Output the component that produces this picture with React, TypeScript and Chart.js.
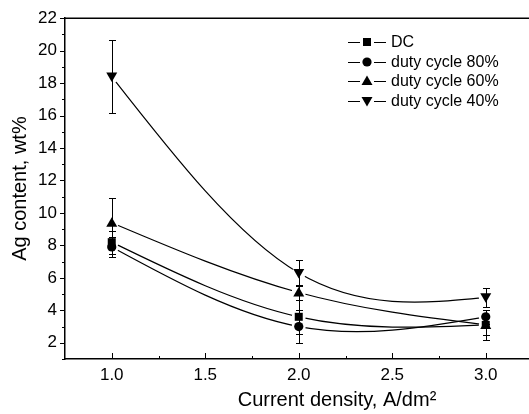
import React, { useEffect, useRef } from 'react';
import { Chart, registerables } from 'chart.js';

Chart.register(...registerables);

const currentDensity = [1.0, 2.0, 3.0];
const seriesNames = ['DC', 'duty cycle 80%', 'duty cycle 60%', 'duty cycle 40%'];
const dcValues = [8.2, 3.6, 3.1];
const dcErrors = [0.7, 1.05, 0.6];
const duty80Values = [7.9, 3.0, 3.6];
const duty80Errors = [0.6, 1.0, 0.45];
const duty60Values = [9.4, 5.1, 3.1];
const duty60Errors = [1.55, 0.45, 0.9];
const duty40Values = [18.4, 6.3, 4.8];
const duty40Errors = [2.25, 0.8, 0.6];
const markerStyles = ['square', 'circle', 'triangleUp', 'triangleDown'];
const xTicks = [1.0, 1.5, 2.0, 2.5, 3.0];
const yTicks = [2, 4, 6, 8, 10, 12, 14, 16, 18, 20, 22];

const allValues = [dcValues, duty80Values, duty60Values, duty40Values];
const allErrors = [dcErrors, duty80Errors, duty60Errors, duty40Errors];

const FONT = "'Liberation Sans', Arial, Helvetica, sans-serif";
const CANVAS_W = 609;
const PLOT_LEFT = 65;
const PX_PER_UNIT = 187;
const X_MIN = 0.75;
const X_MAX = X_MIN + (CANVAS_W - PLOT_LEFT) / PX_PER_UNIT;

function drawMarker(ctx: CanvasRenderingContext2D, style: string, x: number, y: number) {
  ctx.save();
  ctx.fillStyle = '#000';
  ctx.beginPath();
  if (style === 'square') {
    ctx.rect(x - 4, y - 4, 8, 8);
  } else if (style === 'circle') {
    ctx.arc(x, y, 4.6, 0, Math.PI * 2);
  } else if (style === 'triangleUp') {
    ctx.moveTo(x, y - 5.5);
    ctx.lineTo(x + 5.5, y + 4);
    ctx.lineTo(x - 5.5, y + 4);
    ctx.closePath();
  } else {
    ctx.moveTo(x, y + 5.5);
    ctx.lineTo(x + 5.5, y - 4);
    ctx.lineTo(x - 5.5, y - 4);
    ctx.closePath();
  }
  ctx.fill();
  ctx.restore();
}

// natural cubic spline slopes (pixel space) for the element positions
function naturalSlopes(xs: number[], ys: number[]): number[] {
  const n = xs.length;
  if (n < 3) {
    const s = (ys[1] - ys[0]) / (xs[1] - xs[0]);
    return [s, s];
  }
  const h: number[] = [];
  const s: number[] = [];
  for (let i = 0; i < n - 1; i++) {
    h.push(xs[i + 1] - xs[i]);
    s.push((ys[i + 1] - ys[i]) / h[i]);
  }
  // tridiagonal for M[1..n-2], M0 = Mn-1 = 0
  const m = n - 2;
  const a: number[] = [], b: number[] = [], c: number[] = [], d: number[] = [];
  for (let i = 1; i <= m; i++) {
    a.push(h[i - 1]);
    b.push(2 * (h[i - 1] + h[i]));
    c.push(h[i]);
    d.push(6 * (s[i] - s[i - 1]));
  }
  for (let i = 1; i < m; i++) {
    const w = a[i] / b[i - 1];
    b[i] -= w * c[i - 1];
    d[i] -= w * d[i - 1];
  }
  const Mi: number[] = new Array(m);
  Mi[m - 1] = d[m - 1] / b[m - 1];
  for (let i = m - 2; i >= 0; i--) Mi[i] = (d[i] - c[i] * Mi[i + 1]) / b[i];
  const M = [0, ...Mi, 0];
  const slopes: number[] = [];
  for (let i = 0; i < n - 1; i++) {
    slopes.push(s[i] - (h[i] * (2 * M[i] + M[i + 1])) / 6);
  }
  slopes.push(s[n - 2] + (h[n - 2] * (M[n - 2] + 2 * M[n - 1])) / 6);
  return slopes;
}

const gapPlugin = {
  id: 'gapClip',
  beforeDatasetDraw(chart: any, args: any) {
    const ctx = chart.ctx;
    const meta = args.meta;
    const pts = meta.data;
    // natural spline control points
    const px = pts.map((p: any) => p.x);
    const py = pts.map((p: any) => p.y);
    const sl = naturalSlopes(px, py);
    for (let i = 0; i < pts.length; i++) {
      const hPrev = i > 0 ? px[i] - px[i - 1] : 0;
      const hNext = i < pts.length - 1 ? px[i + 1] - px[i] : 0;
      pts[i].cp1x = px[i] - hPrev / 3;
      pts[i].cp1y = py[i] - (sl[i] * hPrev) / 3;
      pts[i].cp2x = px[i] + hNext / 3;
      pts[i].cp2y = py[i] + (sl[i] * hNext) / 3;
    }
    if (meta.dataset) {
      meta.dataset._pointsUpdated = true;
      meta.dataset._path = undefined;
    }
    ctx.save();
    ctx.beginPath();
    ctx.rect(0, 0, chart.width, chart.height);
    pts.forEach((p: any) => {
      ctx.moveTo(p.x + 7, p.y);
      ctx.arc(p.x, p.y, 7, 0, Math.PI * 2);
    });
    ctx.clip('evenodd');
  },
  afterDatasetDraw(chart: any) {
    chart.ctx.restore();
  },
};

const decorPlugin = {
  id: 'decor',
  afterDatasetsDraw(chart: any) {
    const ctx = chart.ctx;
    const ys = chart.scales.y;
    ctx.save();
    ctx.strokeStyle = '#000';
    ctx.lineWidth = 1;
    allValues.forEach((vals, i) => {
      const meta = chart.getDatasetMeta(i);
      vals.forEach((v, j) => {
        const x = Math.round(meta.data[j].x) + 0.5;
        const e = allErrors[i][j];
        const yt = Math.round(ys.getPixelForValue(v + e)) + 0.5;
        const yb = Math.round(ys.getPixelForValue(v - e)) + 0.5;
        ctx.beginPath();
        ctx.moveTo(x, yt);
        ctx.lineTo(x, yb);
        ctx.moveTo(x - 3.5, yt);
        ctx.lineTo(x + 3.5, yt);
        ctx.moveTo(x - 3.5, yb);
        ctx.lineTo(x + 3.5, yb);
        ctx.stroke();
      });
    });
    ctx.restore();
    allValues.forEach((vals, i) => {
      const meta = chart.getDatasetMeta(i);
      vals.forEach((v, j) => {
        drawMarker(ctx, markerStyles[i], meta.data[j].x, meta.data[j].y);
      });
    });
  },
  afterDraw(chart: any) {
    const ctx = chart.ctx;
    const ys = chart.scales.y;
    const xs = chart.scales.x;
    const area = chart.chartArea;
    ctx.save();
    ctx.strokeStyle = '#000';
    ctx.lineWidth = 1.5;
    ctx.beginPath();
    ctx.moveTo(area.left, area.top);
    ctx.lineTo(chart.width, area.top);
    ctx.stroke();
    ctx.lineWidth = 1;
    for (let k = 0; k <= 12; k++) {
      const v = 0.75 + k * 0.25;
      const major = Math.abs(v * 2 - Math.round(v * 2)) < 1e-6;
      const x = Math.round(xs.getPixelForValue(v)) + 0.5;
      if (x <= area.left + 1) continue;
      ctx.beginPath();
      ctx.moveTo(x, area.bottom);
      ctx.lineTo(x, area.bottom - (major ? 6 : 3));
      ctx.stroke();
    }
    for (let v = 1; v <= 22; v++) {
      const major = v % 2 === 0;
      const y = Math.round(ys.getPixelForValue(v)) + 0.5;
      ctx.beginPath();
      ctx.moveTo(area.left, y);
      ctx.lineTo(area.left - (major ? 5 : 3), y);
      ctx.stroke();
    }
    const rowY = [42, 62, 81, 101];
    ctx.font = `16px ${FONT}`;
    ctx.textBaseline = 'middle';
    ctx.textAlign = 'left';
    ctx.fillStyle = '#000';
    seriesNames.forEach((name, i) => {
      const y = rowY[i] + 0.5;
      ctx.lineWidth = 1.2;
      ctx.beginPath();
      ctx.moveTo(348, y);
      ctx.lineTo(360, y);
      ctx.moveTo(374, y);
      ctx.lineTo(386, y);
      ctx.stroke();
      drawMarker(ctx, markerStyles[i], 367, rowY[i]);
      ctx.fillText(name, 391, rowY[i] + 1);
    });
    ctx.restore();
  },
};

export default function App() {
  const ref = useRef<HTMLCanvasElement>(null);
  useEffect(() => {
    if (!ref.current) return;
    const datasets = allValues.map((vals, i) => ({
      label: seriesNames[i],
      data: currentDensity.map((x, j) => ({ x, y: vals[j] })),
      borderColor: '#000',
      borderWidth: 1.2,
      pointRadius: 0,
      pointHoverRadius: 0,
      tension: 0.4,
      fill: false,
    }));
    const chart = new Chart(ref.current, {
      type: 'line',
      data: { datasets },
      options: {
        responsive: false,
        animation: false,
        events: [],
        layout: { padding: { top: 11, right: 0, left: 0, bottom: 0 } },
        plugins: { legend: { display: false }, tooltip: { enabled: false } },
        scales: {
          x: {
            type: 'linear',
            min: X_MIN,
            max: X_MAX,
            afterBuildTicks: (s: any) => {
              s.ticks = xTicks.map((v) => ({ value: v }));
            },
            afterFit: (s: any) => {
              s.height = 55;
            },
            grid: { display: false, drawTicks: false },
            border: { display: true, color: '#000', width: 1.5 },
            ticks: {
              color: '#000',
              font: { family: FONT, size: 17 },
              padding: 6,
              maxRotation: 0,
              autoSkip: false,
              callback: (v: any) => Number(v).toFixed(1),
            },
            title: {
              display: true,
              text: 'Current density, A/dm²',
              color: '#000',
              font: { family: FONT, size: 20 },
              padding: { top: 0, bottom: 2 },
            },
          },
          y: {
            type: 'linear',
            min: 1,
            max: 22,
            afterBuildTicks: (s: any) => {
              s.ticks = yTicks.map((v) => ({ value: v }));
            },
            afterFit: (s: any) => {
              s.width = PLOT_LEFT;
            },
            grid: { display: false, drawTicks: false },
            border: { display: true, color: '#000', width: 1.5 },
            ticks: {
              color: '#000',
              font: { family: FONT, size: 17 },
              padding: 8,
              autoSkip: false,
              callback: (v: any) => String(v),
            },
            title: {
              display: true,
              text: 'Ag content, wt%',
              color: '#000',
              font: { family: FONT, size: 20 },
              padding: { top: 8, bottom: 0 },
            },
          },
        },
      },
      plugins: [gapPlugin, decorPlugin],
    });
    return () => chart.destroy();
  }, []);
  return (
    <div style={{ position: 'fixed', left: 0, top: 0, width: 529, height: 414, overflow: 'hidden', background: '#fff' }}>
      <canvas ref={ref} width={CANVAS_W} height={414} style={{ display: 'block' }} />
    </div>
  );
}
